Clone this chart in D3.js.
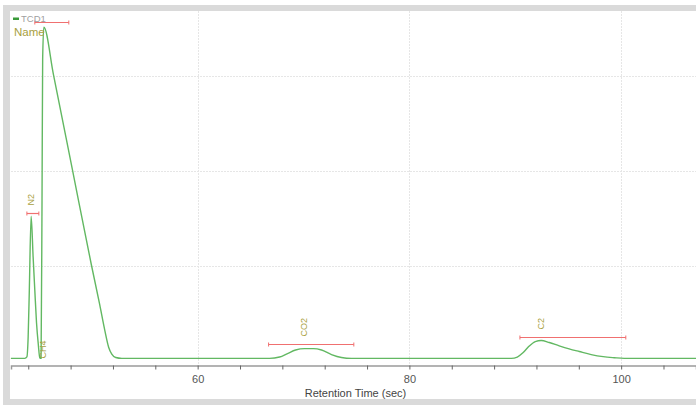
<!DOCTYPE html>
<html>
<head>
<meta charset="utf-8">
<script src="https://cdn.jsdelivr.net/npm/d3@7"></script>
<style>
  html, body { margin: 0; padding: 0; background: #fff; }
  svg { display: block; font-family: "Liberation Sans", Arial, sans-serif; }
</style>
</head>
<body>
<svg id="chart" width="696" height="405"></svg>
<script>
// TCD1 chromatogram: retention time (sec) vs detector signal
const retentionTime = [
  42.36, 43.68, 43.87, 43.99, 44.10, 44.27, 44.46, 44.62, 44.78, 44.95, 45.09,
  45.21, 45.30, 45.36, 45.47, 46.38, 48.17, 49.96, 50.75, 51.23, 51.60, 51.89,
  52.26, 52.83,
  66.79, 67.74, 68.49, 69.25, 70.09, 70.94, 71.70, 72.64, 73.58, 74.53,
  89.62, 90.19, 90.75, 91.32, 91.89, 92.45, 93.21, 94.15, 95.09, 96.04, 97.17,
  98.30, 99.34, 100.28, 107.07
];
const signal = [
  0.025, 0.025, 0.04, 0.25, 0.74, 1.52, 1.09, 0.74, 0.40, 0.17, 0.03,
  0.025, 1.69, 3.17, 3.51, 3.01, 2.01, 1.01, 0.59, 0.32, 0.14, 0.07,
  0.034, 0.025,
  0.025, 0.039, 0.076, 0.113, 0.128, 0.128, 0.113, 0.065, 0.034, 0.025,
  0.025, 0.039, 0.086, 0.155, 0.202, 0.213, 0.192, 0.157, 0.125, 0.097, 0.065,
  0.043, 0.032, 0.025, 0.025
];

// Identified peaks and their integration windows
const peakNames = ["N2", "CH4", "CO2", "C2"];
const peakApex = [44.27, 45.36, 70.09, 92.45];
const windowStart = [43.87, 44.62, 66.70, 90.44];
const windowEnd = [45.00, 47.83, 74.75, 100.44];
const windowLevel = [1.55, 3.56, 0.173, 0.25];

// Axis ticks
const minorTicks = d3.range(44, 107, 4);
const labeledTicks = [60, 80, 100];
const gridLevels = [1, 2, 3];

const svg = d3.select("#chart");
const W = 696, H = 405;

// panel frame
svg.append("rect").attr("x", 0).attr("y", 0).attr("width", W).attr("height", H).attr("fill", "#fff");
svg.append("rect").attr("x", 3).attr("y", 5).attr("width", W - 3).attr("height", H - 5).attr("fill", "#dadada");
svg.append("rect").attr("x", 10).attr("y", 11).attr("width", W - 10).attr("height", 388).attr("fill", "#fff");

const plot = { left: 11, right: 696, top: 11, bottom: 365.5 };

const x = d3.scaleLinear().domain([42.37, 107.07]).range([plot.left, plot.right]);
const y = d3.scaleLinear().domain([-0.05, 3.68]).range([plot.bottom, plot.top]);

const g = svg.append("g");

// dotted grid
g.selectAll("line.hgrid").data(gridLevels).join("line")
  .attr("x1", plot.left).attr("x2", plot.right)
  .attr("y1", d => Math.round(y(d)) + 0.5).attr("y2", d => Math.round(y(d)) + 0.5)
  .attr("stroke", "#e6e6e6").attr("stroke-dasharray", "2,1");
g.selectAll("line.vgrid").data(labeledTicks).join("line")
  .attr("x1", d => Math.round(x(d)) + 0.5).attr("x2", d => Math.round(x(d)) + 0.5)
  .attr("y1", plot.top).attr("y2", plot.bottom)
  .attr("stroke", "#e6e6e6").attr("stroke-dasharray", "2,1");

// x axis: a tick every 4 s, labels every 20 s
const axisG = svg.append("g").attr("transform", `translate(0,${plot.bottom})`);
axisG.call(d3.axisBottom(x).tickValues(minorTicks).tickSize(4).tickFormat(d => labeledTicks.includes(d) ? d : ""));
axisG.select(".domain").attr("stroke", "#9a9a9a").attr("stroke-width", 1.5);
axisG.selectAll(".tick line").attr("stroke", "#666");
axisG.selectAll(".tick text").attr("fill", "#555").attr("font-size", 11)
  .attr("font-family", "Liberation Sans, Arial, sans-serif").attr("dy", "0.95em");

svg.append("text").attr("x", (x(42.37) + x(107.07)) / 2 + 2).attr("y", 397)
  .attr("text-anchor", "middle").attr("font-size", 11).attr("fill", "#444")
  .text("Retention Time (sec)");

// trace
const line = d3.line().x((d, i) => x(retentionTime[i])).y(d => y(d)).curve(d3.curveMonotoneX);
g.append("path").datum(signal)
  .attr("d", line)
  .attr("fill", "none").attr("stroke", "#62b862").attr("stroke-width", 1.4)
  .attr("stroke-linejoin", "round");

// integration windows
peakNames.forEach((name, i) => {
  const x0 = x(windowStart[i]), x1 = x(windowEnd[i]), yy = Math.round(y(windowLevel[i])) + 0.5;
  g.append("line").attr("x1", x0).attr("x2", x1).attr("y1", yy).attr("y2", yy)
    .attr("stroke", "#f07070").attr("stroke-width", 1.2);
  [x0, x1].forEach(xx => g.append("line").attr("x1", xx).attr("x2", xx)
    .attr("y1", yy - 2).attr("y2", yy + 2).attr("stroke", "#f07070"));

  // peak name, rotated; dropped to the baseline if it would leave the panel
  let ly = yy - 8;
  if (ly - 20 < plot.top) ly = plot.bottom - 7;
  g.append("text")
    .attr("transform", `translate(${x(peakApex[i]) + 3},${ly}) rotate(-90)`)
    .attr("font-size", 9).attr("fill", "#a8a040")
    .text(name);
});

// legend
svg.append("rect").attr("x", 13).attr("y", 17.5).attr("width", 6).attr("height", 2.5).attr("fill", "#3a9a3a");
svg.append("text").attr("x", 21).attr("y", 22).attr("font-size", 9.5).attr("fill", "#a0a0a0").text("TCD1");
svg.append("text").attr("x", 14).attr("y", 36).attr("font-size", 11.5).attr("fill", "#a8a040").text("Name");
</script>
</body>
</html>
